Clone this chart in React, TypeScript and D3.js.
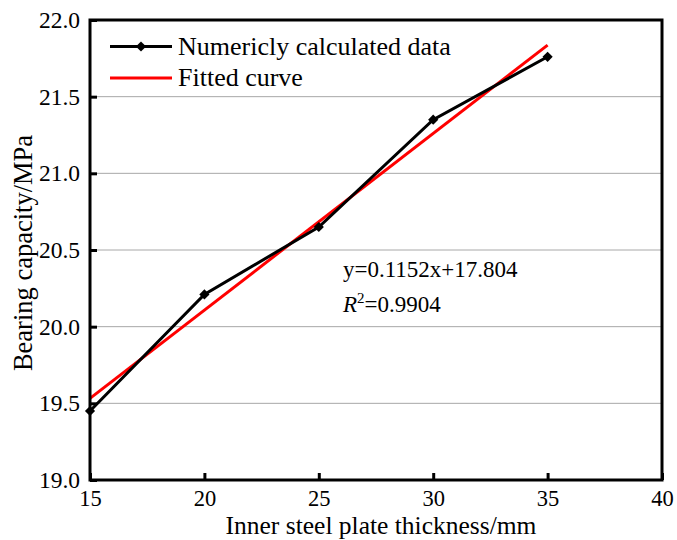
import React, { useEffect, useRef } from "react";
import * as d3 from "d3";

const thickness = [15, 20, 25, 30, 35];
const capacity = [19.45, 20.21, 20.65, 21.35, 21.76];
const slope = 0.1152;
const intercept = 17.804;
const xTicks = [15, 20, 25, 30, 35, 40];
const yTicks = [19.0, 19.5, 20.0, 20.5, 21.0, 21.5, 22.0];

const App = () => {
  const ref = useRef<SVGSVGElement>(null);

  useEffect(() => {
    const svg = d3.select(ref.current);
    svg.selectAll("*").remove();

    const width = 677;
    const height = 540;
    const margin = { top: 20, right: 15, bottom: 60, left: 90 };
    const font = "'Liberation Serif', 'Times New Roman', serif";

    const x = d3.scaleLinear().domain([15, 40]).range([margin.left, width - margin.right]);
    const y = d3.scaleLinear().domain([19, 22]).range([height - margin.bottom, margin.top]);

    // grid
    svg.append("g")
      .selectAll("line")
      .data(yTicks.slice(1, -1))
      .enter()
      .append("line")
      .attr("x1", x(15))
      .attr("x2", x(40))
      .attr("y1", (d) => y(d))
      .attr("y2", (d) => y(d))
      .attr("stroke", "#a8a8a8")
      .attr("stroke-width", 1);

    // fitted line
    svg.append("line")
      .attr("x1", x(15))
      .attr("y1", y(slope * 15 + intercept))
      .attr("x2", x(35))
      .attr("y2", y(slope * 35 + intercept))
      .attr("stroke", "#ff0000")
      .attr("stroke-width", 3);

    const pts = thickness.map((t, i) => [t, capacity[i]] as [number, number]);
    svg.append("path")
      .datum(pts)
      .attr("fill", "none")
      .attr("stroke", "#000")
      .attr("stroke-width", 3)
      .attr("d", d3.line<[number, number]>().x((d) => x(d[0])).y((d) => y(d[1])));

    const diamond = d3.symbol().type(d3.symbolSquare).size(52);
    svg.append("g")
      .selectAll("path")
      .data(pts)
      .enter()
      .append("path")
      .attr("d", diamond)
      .attr("transform", (d) => `translate(${x(d[0])},${y(d[1])}) rotate(45)`)
      .attr("fill", "#000");

    // frame
    svg.append("rect")
      .attr("x", x(15))
      .attr("y", y(22))
      .attr("width", x(40) - x(15))
      .attr("height", y(19) - y(22))
      .attr("fill", "none")
      .attr("stroke", "#000")
      .attr("stroke-width", 3);

    // axes
    const xAxis = svg.append("g")
      .attr("transform", `translate(0,${y(19)})`)
      .call(d3.axisBottom(x).tickValues(xTicks).tickSize(-7).tickPadding(10).tickFormat(d3.format("d")));
    xAxis.select(".domain").remove();
    xAxis.selectAll("line").attr("stroke-width", 3);
    xAxis.selectAll("text").attr("font-family", font).attr("font-size", 22.5).attr("fill", "#000");

    const yAxis = svg.append("g")
      .attr("transform", `translate(${x(15)},0)`)
      .call(d3.axisLeft(y).tickValues(yTicks).tickSize(-7).tickPadding(10).tickFormat(d3.format(".1f")));
    yAxis.select(".domain").remove();
    yAxis.selectAll("line").attr("stroke-width", 3);
    yAxis.selectAll("text").attr("font-family", font).attr("font-size", 23.5).attr("fill", "#000");

    // titles
    svg.append("text")
      .attr("x", 381)
      .attr("y", 534)
      .attr("text-anchor", "middle")
      .attr("font-family", font)
      .attr("font-size", 25.5)
      .text("Inner steel plate thickness/mm");

    svg.append("text")
      .attr("transform", `translate(32,253) rotate(-90)`)
      .attr("text-anchor", "middle")
      .attr("font-family", font)
      .attr("font-size", 26.5)
      .text("Bearing capacity/MPa");

    // legend
    const legend = svg.append("g").attr("font-family", font).attr("font-size", 26);
    legend.append("line").attr("x1", 110).attr("x2", 172).attr("y1", 46.5).attr("y2", 46.5)
      .attr("stroke", "#000").attr("stroke-width", 3);
    legend.append("path").attr("d", diamond).attr("transform", "translate(141,46.5) rotate(45)");
    legend.append("text").attr("x", 178).attr("y", 55).text("Numericly calculated data");
    legend.append("line").attr("x1", 110).attr("x2", 172).attr("y1", 78).attr("y2", 78)
      .attr("stroke", "#ff0000").attr("stroke-width", 3);
    legend.append("text").attr("x", 178).attr("y", 86).text("Fitted curve");

    // equation
    const eq = svg.append("g").attr("font-family", font).attr("font-size", 23);
    eq.append("text").attr("x", 343).attr("y", 277).text(`y=${slope}x+${intercept}`);
    const r2 = eq.append("text").attr("x", 343).attr("y", 312);
    r2.append("tspan").attr("font-style", "italic").text("R");
    r2.append("tspan").attr("font-size", 15).attr("dy", -9).text("2");
    r2.append("tspan").attr("dy", 9).text("=0.9904");
  }, []);

  return <svg ref={ref} width={677} height={540} style={{ position: "absolute", left: 0, top: 0 }}></svg>;
};

export default App;
